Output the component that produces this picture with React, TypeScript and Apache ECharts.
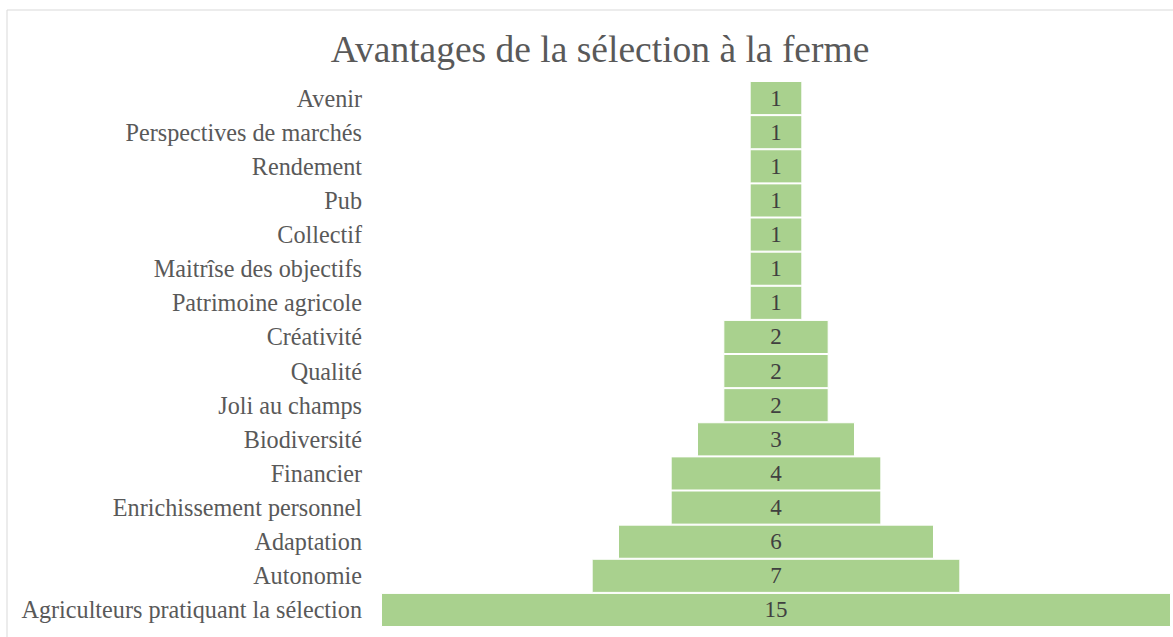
import React, { useEffect, useRef } from "react";
import * as echarts from "echarts";

const categories = [
  "Avenir",
  "Perspectives de marchés",
  "Rendement",
  "Pub",
  "Collectif",
  "Maitrîse des objectifs",
  "Patrimoine agricole",
  "Créativité",
  "Qualité",
  "Joli au champs",
  "Biodiversité",
  "Financier",
  "Enrichissement personnel",
  "Adaptation",
  "Autonomie",
  "Agriculteurs pratiquant la sélection",
];
const values = [1, 1, 1, 1, 1, 1, 1, 2, 2, 2, 3, 4, 4, 6, 7, 15];
const maxValue = 15;

const FONT = "Liberation Serif";

export default function App() {
  const ref = useRef<HTMLDivElement>(null);
  useEffect(() => {
    if (!ref.current) return;
    const chart = echarts.init(ref.current, null, { renderer: "svg" });
    const offsets = values.map((v) => (maxValue - v) / 2);
    chart.setOption({
      animation: false,
      backgroundColor: "#ffffff",
      title: {
        text: "Avantages de la sélection à la ferme",
        left: 595,
        textAlign: "center",
        top: 25,
        textStyle: { fontFamily: FONT, fontSize: 37.5, fontWeight: "normal", color: "#595959" },
      },
      graphic: [
        {
          type: "rect",
          shape: { x: 7, y: 10, width: 1175, height: 640 },
          style: { fill: "none", stroke: "#d9d9d9", lineWidth: 1 },
          silent: true,
        },
      ],
      grid: { left: 381, right: 2, top: 81, bottom: 10, containLabel: false },
      xAxis: {
        type: "value",
        min: 0,
        max: maxValue,
        show: false,
      },
      yAxis: {
        type: "category",
        data: categories,
        inverse: true,
        axisLine: { show: false },
        axisTick: { show: false },
        axisLabel: { fontFamily: FONT, fontSize: 24.2, color: "#595959", margin: 19 },
      },
      series: [
        {
          type: "bar",
          stack: "f",
          data: offsets,
          itemStyle: { color: "transparent" },
          barWidth: "100%",
          silent: true,
        },
        {
          type: "bar",
          stack: "f",
          data: values,
          barWidth: "100%",
          itemStyle: { color: "#a9d18e", borderColor: "#ffffff", borderWidth: 1 },
          label: {
            show: true,
            position: "inside",
            fontFamily: FONT,
            fontSize: 23,
            color: "#404040",
          },
        },
      ],
    });
    return () => chart.dispose();
  }, []);
  return (
    <div
      ref={ref}
      style={{ position: "absolute", left: 0, top: 0, width: 1173, height: 637 }}
    />
  );
}
